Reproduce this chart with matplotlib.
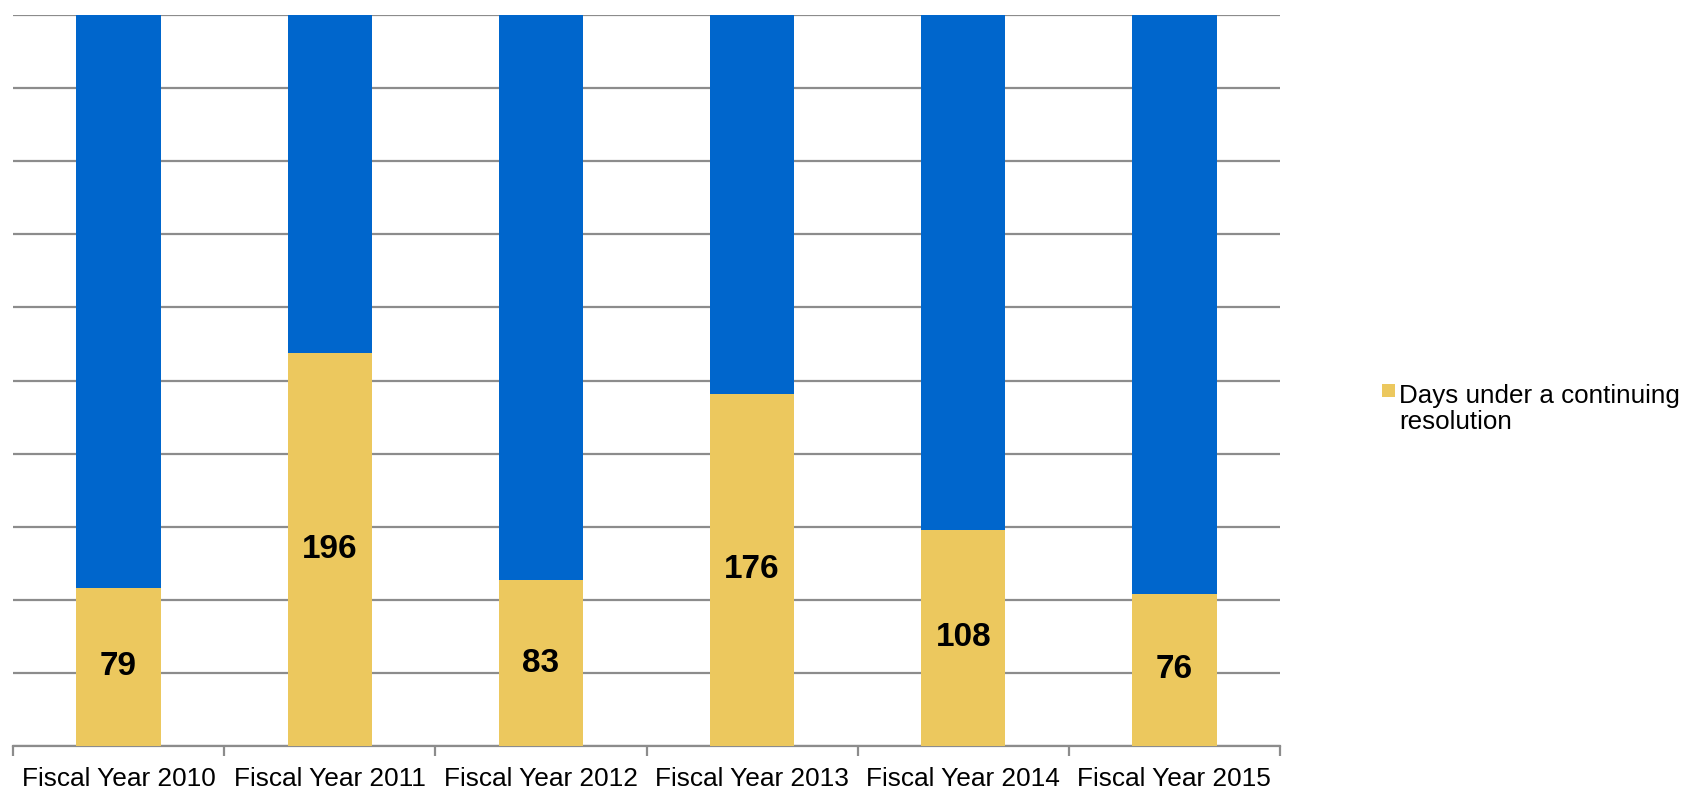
import numpy as np
import matplotlib.pyplot as plt
from matplotlib.patches import Rectangle

# Données
years = ['Fiscal Year 2010', 'Fiscal Year 2011', 'Fiscal Year 2012',
         'Fiscal Year 2013', 'Fiscal Year 2014', 'Fiscal Year 2015']
cr_days = [79, 196, 83, 176, 108, 76]
year_days = [365, 365, 366, 365, 365, 365]
legend_label = 'Days under a continuing\nresolution'

plt.rcParams['font.family'] = ['Liberation Sans', 'DejaVu Sans']

cr = np.array(cr_days, dtype=float)
total = np.array(year_days, dtype=float)
cr_share = cr / total
rest_share = (total - cr) / total

W, H = 1688, 790
fig = plt.figure(figsize=(W / 100, H / 100), dpi=100)
ax = fig.add_axes([0.0077, 0.0557, 0.7506, 0.9253])

x = np.arange(len(years))
yellow = '#ECC85E'
blue = '#0066CC'

ax.bar(x, cr_share, 0.4, color=yellow, zorder=3)
ax.bar(x, rest_share, 0.4, bottom=cr_share, color=blue, zorder=3)

for xi, v, s in zip(x, cr_days, cr_share):
    ax.text(xi, s / 2, str(v), ha='center', va='center',
            fontsize=24, fontweight='bold', color='black', zorder=4)

# grille horizontale tous les 10 %
ax.set_ylim(0, 1)
ax.set_yticks(np.linspace(0, 1, 11))
ax.yaxis.grid(True, color='#8c8c8c', linewidth=1.6, zorder=0)
ax.tick_params(axis='y', left=False, labelleft=False)

ax.set_xlim(-0.5, len(years) - 0.5)
ax.set_xticks(x)
ax.set_xticklabels(years, fontsize=18.9)
ax.set_xticks(np.arange(-0.5, len(years)), minor=True)
ax.tick_params(axis='x', which='major', length=0, pad=15)
ax.tick_params(axis='x', which='minor', length=7, width=1.6, color='#8c8c8c')

for side in ['left', 'right', 'top']:
    ax.spines[side].set_visible(False)
ax.spines['bottom'].set_color('#8c8c8c')
ax.spines['bottom'].set_linewidth(1.6)

# légende (série jaune seulement), carré aligné sur la première ligne
fig.patches.append(Rectangle((1382 / W, 1 - 397 / H), 13 / W, 13 / H,
                             transform=fig.transFigure, facecolor=yellow,
                             edgecolor='none'))
fig.text(1399 / W, 1 - 384 / H, legend_label, ha='left', va='top',
         fontsize=18.7, linespacing=1.1)

fig.savefig('out.png', dpi=100)
